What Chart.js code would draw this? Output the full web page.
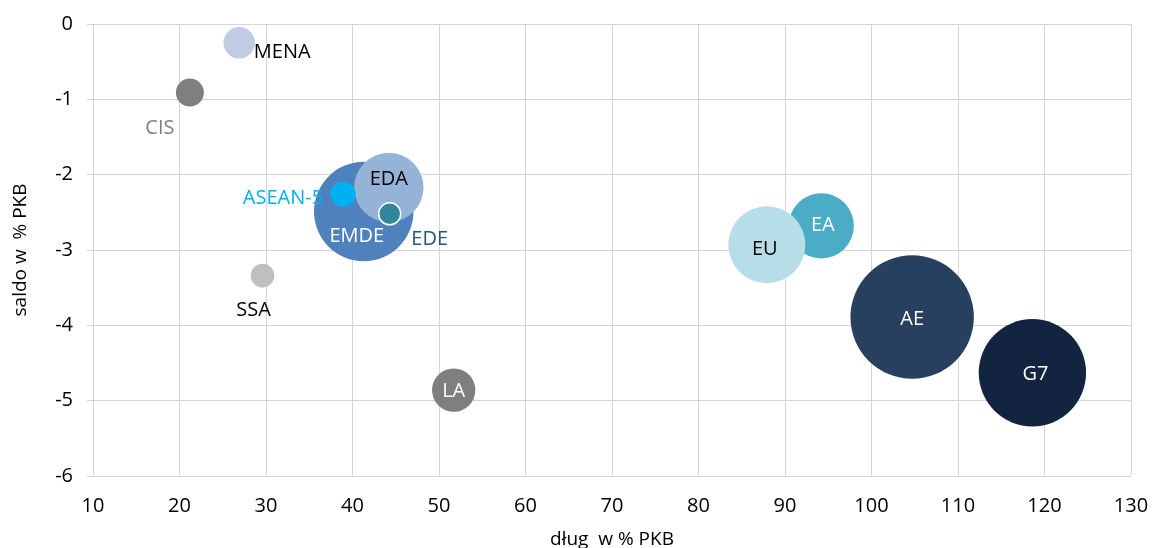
<!DOCTYPE html>
<html lang="pl">
<head>
<meta charset="utf-8">
<title>Dług i saldo budżetowe w % PKB</title>
<script src="https://cdn.jsdelivr.net/npm/chart.js@4/dist/chart.umd.min.js"></script>
<style>
  html, body { margin: 0; padding: 0; background: #ffffff; }
  #wrap { width: 1152px; height: 548px; position: relative; }
</style>
</head>
<body>
<div id="wrap"><canvas id="chart"></canvas></div>
<script>
// Regions / country groups (drawing order: later ones on top)
const regions   = ['MENA', 'CIS', 'SSA', 'LA', 'EMDE', 'EDA', 'ASEAN-5', 'EDE', 'EA', 'EU', 'AE', 'G7'];
// Public debt, % of GDP
const debt      = [26.9, 21.2, 29.6, 51.7, 41.3, 44.2, 38.9, 44.3, 94.2, 87.9, 104.7, 118.6];
// Fiscal balance, % of GDP
const balance   = [-0.25, -0.91, -3.34, -4.86, -2.49, -2.17, -2.26, -2.52, -2.68, -2.93, -3.89, -4.63];
// Bubble size: share of world GDP, %
const gdpShare  = [3.9, 3.1, 2.2, 7.4, 39.0, 19.0, 2.5, 1.9, 16.7, 23.4, 60.0, 45.4];

// Axis ticks
const xTicks = { min: 10, max: 130, step: 10 };
const yTicks = { min: -6, max: 0, step: 1 };

// Appearance of each bubble and its label
const fillColors  = ['#C0CCE2', '#7F7F7F', '#BFBFBF', '#7F7F7F', '#4F81BD', '#95B3D7', '#00B0F0', '#31859C', '#4BACC6', '#B7DEE8', '#27405F', '#12243F'];
const borderW     = [0, 0, 0, 0, 0, 0, 0, 1.5, 0, 0, 0, 0];
const labelColors = ['#000000', '#7F7F7F', '#000000', '#FFFFFF', '#FFFFFF', '#000000', '#00B0F0', '#215968', '#FFFFFF', '#000000', '#FFFFFF', '#FFFFFF'];
const labelShift  = [[43, 8.5], [-30, 34], [-9, 33], [0, 0], [-7, 23.5], [0, -9.5], [-60, 2.5], [40, 24], [1.5, -2.5], [-2, 3], [0, 1], [3, 0]];

const FONT = '"Open Sans", "Noto Sans", sans-serif';
const FONT_SIZE = 20;
const GRID_COLOR = '#D4D4D4';
const RADIUS_PER_SQRT = 7.966;   // bubble area proportional to GDP share

const points = regions.map((name, i) => ({
  x: debt[i],
  y: balance[i],
  r: RADIUS_PER_SQRT * Math.sqrt(gdpShare[i])
}));

// Writes each region name next to / inside its bubble
const bubbleLabels = {
  id: 'bubbleLabels',
  afterDatasetsDraw(chart) {
    const ctx = chart.ctx;
    const meta = chart.getDatasetMeta(0);
    ctx.save();
    ctx.font = FONT_SIZE + 'px ' + FONT;
    ctx.textAlign = 'center';
    ctx.textBaseline = 'alphabetic';
    meta.data.forEach((el, i) => {
      const [dx, dy] = labelShift[i];
      ctx.fillStyle = labelColors[i];
      // dy is the cap-height centre; shift to the baseline
      ctx.fillText(regions[i], el.x + dx, el.y + dy + 0.357 * FONT_SIZE);
    });
    ctx.restore();
  }
};

new Chart(document.getElementById('chart'), {
  type: 'bubble',
  data: {
    datasets: [{
      label: 'saldo',
      data: points,
      backgroundColor: fillColors,
      borderColor: '#FFFFFF',
      borderWidth: borderW,
      hoverBorderWidth: borderW,
      clip: false
    }]
  },
  options: {
    responsive: true,
    maintainAspectRatio: false,
    animation: false,
    events: [],
    layout: { autoPadding: false, padding: { top: 24, right: 21, left: 0, bottom: 0 } },
    plugins: {
      legend: { display: false },
      tooltip: { enabled: false }
    },
    scales: {
      x: {
        type: 'linear',
        min: xTicks.min,
        max: xTicks.max,
        afterFit(scale) {
          scale.height = 72;
          scale.paddingLeft = 0;
          scale.paddingRight = 0;
        },
        border: { display: false },
        grid: { color: GRID_COLOR, lineWidth: 1, drawTicks: false },
        ticks: {
          stepSize: xTicks.step,
          padding: 18,
          color: '#000000',
          font: { family: FONT, size: FONT_SIZE }
        },
        title: {
          display: true,
          text: 'dług  w % PKB',
          color: '#000000',
          font: { family: FONT, size: FONT_SIZE - 1 },
          padding: { top: 0, bottom: -3 }
        }
      },
      y: {
        type: 'linear',
        min: yTicks.min,
        max: yTicks.max,
        afterFit(scale) {
          scale.width = 93;
          scale.paddingTop = 0;
          scale.paddingBottom = 0;
        },
        border: { display: false },
        grid: { color: GRID_COLOR, lineWidth: 1, drawTicks: true, tickLength: 6 },
        ticks: {
          stepSize: yTicks.step,
          padding: 14,
          color: '#000000',
          font: { family: FONT, size: FONT_SIZE }
        },
        title: {
          display: true,
          text: 'saldo w  % PKB',
          color: '#000000',
          font: { family: FONT, size: FONT_SIZE - 1 },
          padding: { top: 9, bottom: 0 }
        }
      }
    }
  },
  plugins: [bubbleLabels]
});
</script>
</body>
</html>
